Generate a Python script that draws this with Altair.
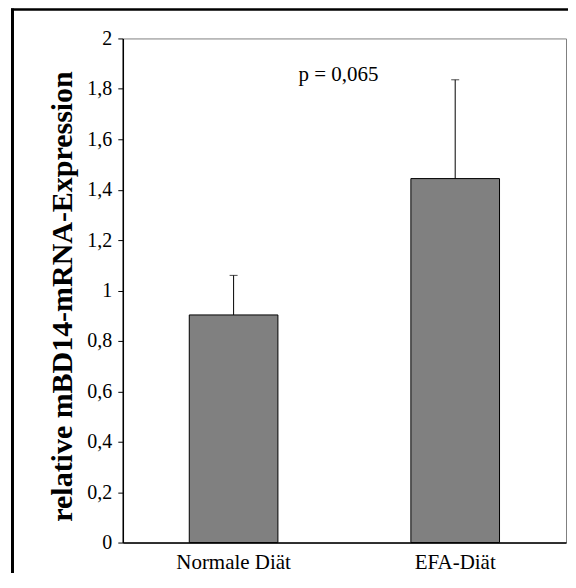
import altair as alt
import pandas as pd

categories = ["Normale Diät", "EFA-Diät"]
means = [0.903, 1.444]
upper = [1.060, 1.836]
y_ticks = [0, 0.2, 0.4, 0.6, 0.8, 1.0, 1.2, 1.4, 1.6, 1.8, 2.0]
p_label = ["p = 0,065"]
p_group = ["EFA-Diät"]
p_y = [1.853]

df = pd.DataFrame({"group": categories, "mean": means, "upper": upper})
df_p = pd.DataFrame({"group": p_group, "y": p_y, "label": p_label})
df_one = pd.DataFrame({"a": [0]})

FONT = "Liberation Serif"

x_enc = alt.X(
    "group:N",
    sort=categories,
    scale=alt.Scale(paddingInner=0.6, paddingOuter=0.3),
    axis=alt.Axis(
        title=None, ticks=False, labelAngle=0, labelFont=FONT, labelFontSize=21,
        labelColor="black", labelPadding=9, domainColor="black", domainWidth=1.5,
    ),
)
y_scale = alt.Scale(domain=[0, 2], nice=False)
y_axis = alt.Axis(
    values=y_ticks,
    title="relative mBD14-mRNA-Expression",
    grid=False,
    labelFont=FONT, labelFontSize=20, labelColor="black", labelPadding=6,
    labelExpr="replace(format(datum.value, '~g'), '.', ',')",
    tickColor="black", tickSize=5, tickWidth=1,
    domainColor="black", domainWidth=1.5,
    titleFont=FONT, titleFontSize=30, titleFontWeight="bold", titleColor="black",
    titleAngle=-90, titleX=-51, titleY=258, titleBaseline="alphabetic", titleAlign="center",
)

bars = alt.Chart(df).mark_bar(color="#808080", stroke="black", strokeWidth=1).encode(
    x=x_enc, y=alt.Y("mean:Q", scale=y_scale, axis=y_axis)
)
err = alt.Chart(df).mark_rule(color="black", strokeWidth=1).encode(
    x=alt.X("group:N", sort=categories), y="mean:Q", y2="upper:Q"
)
cap = alt.Chart(df).mark_tick(color="black", thickness=1, size=8).encode(
    x=alt.X("group:N", sort=categories), y="upper:Q"
)
ptext = alt.Chart(df_p).mark_text(
    font=FONT, fontSize=21, color="black", dx=-117, baseline="middle", align="center"
).encode(x=alt.X("group:N", sort=categories), y="y:Q", text="label:N")

frame_top = alt.Chart(df_one).mark_rule(color="black", strokeWidth=2.5).encode(
    x=alt.value(-112), x2=alt.value(700), y=alt.value(-29)
)
frame_left = alt.Chart(df_one).mark_rule(color="black", strokeWidth=3).encode(
    x=alt.value(-110.5), y=alt.value(-30), y2=alt.value(700)
)

chart = (
    alt.layer(bars, err, cap, ptext, frame_top, frame_left)
    .properties(
        width=444, height=505,
        autosize=alt.AutoSizeParams(type="none"),
        padding={"left": 115, "top": 30, "right": 2, "bottom": 30},
        background="white",
    )
    .configure_view(stroke="#808080", strokeWidth=1)
)

chart.save("out.html", embed_options={"renderer": "svg", "actions": False})
